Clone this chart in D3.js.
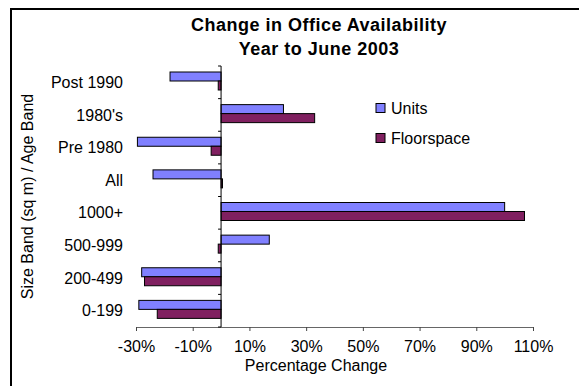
<!DOCTYPE html>
<html>
<head>
<meta charset="utf-8">
<script src="https://cdn.jsdelivr.net/npm/d3@7"></script>
<style>
	body {margin:0; background:#fff;}
	text {font-family:"Liberation Sans", Arial, sans-serif; fill:#000;}
</style>
</head>
<body>
<div class="c_chart"></div>
<script>

/*DATA
------------------------------------------------------
*/

const categories = ["Post 1990", "1980's", "Pre 1980", "All", "1000+", "500-999", "200-499", "0-199"];
const series = ["Units", "Floorspace"];
const units = [-18, 22, -29.5, -24, 100, 17, -28, -29];
const floorspace = [-1, 33, -3.5, 0.5, 107, -1, -27, -22.5];
const xTicks = [-30, -10, 10, 30, 50, 70, 90, 110];
const colors = ["#8080ff", "#802060"];

/*DIMENSIONS
------------------------------------------------------
*/

let width = 579;
let height = 386;
const plot = {top:66, bottom:327, left:136, right:533};

let svg = d3.select(".c_chart")
	.append("svg")
	.attr("width", width)
	.attr("height", height);

/*chart frame (only top and left edges are inside the picture)*/
svg.append("rect")
	.attr("x", 11).attr("y", 9)
	.attr("width", 700).attr("height", 500)
	.attr("fill", "none")
	.attr("stroke", "#000")
	.attr("stroke-width", 2);

/*SCALES
------------------------------------------------------
*/

const x = d3.scaleLinear()
	.domain([-30, 110])
	.range([plot.left, plot.right]);

const y = d3.scaleBand()
	.domain(categories)
	.range([plot.top, plot.bottom]);

const ySub = d3.scaleBand()
	.domain(series)
	.range([6, 24]);

/*BARS
------------------------------------------------------
*/

const rows = categories.map((c, i) => ({cat:c, values:[units[i], floorspace[i]]}));

const groups = svg.append("g")
	.selectAll("g")
	.data(rows)
	.enter()
	.append("g")
	.attr("transform", d => "translate(0," + y(d.cat) + ")");

groups.selectAll("rect")
	.data(d => d.values.map((v, j) => ({key:series[j], v:v})))
	.enter()
	.append("rect")
	.attr("x", d => x(Math.min(0, d.v)))
	.attr("y", d => ySub(d.key))
	.attr("width", d => Math.abs(x(d.v) - x(0)))
	.attr("height", ySub.bandwidth())
	.attr("fill", (d, j) => colors[j])
	.attr("stroke", "#000")
	.attr("stroke-width", 1);

/*X AXIS
------------------------------------------------------
*/

const xAxis = svg.append("g")
	.attr("transform", "translate(0," + plot.bottom + ")")
	.call(d3.axisBottom(x)
		.tickValues(xTicks)
		.tickFormat(d => d + "%")
		.tickSize(4)
		.tickSizeOuter(0)
		.tickPadding(10));

xAxis.select(".domain").attr("stroke", "#666");
xAxis.selectAll(".tick line").attr("stroke", "#444");
xAxis.selectAll("text")
	.attr("font-size", 16)
	.attr("font-family", "Liberation Sans, Arial, sans-serif")
	.attr("fill", "#000");

/*CATEGORY AXIS AT ZERO
------------------------------------------------------
*/

svg.append("line")
	.attr("x1", x(0)).attr("x2", x(0))
	.attr("y1", plot.top).attr("y2", plot.bottom)
	.attr("stroke", "#000");

const bounds = categories.map(c => y(c)).concat([y.range()[1]]);
svg.append("g")
	.selectAll("line")
	.data(bounds)
	.enter()
	.append("line")
	.attr("x1", x(0) - 3).attr("x2", x(0))
	.attr("y1", d => d).attr("y2", d => d)
	.attr("stroke", "#000");

svg.append("g")
	.selectAll("text")
	.data(categories)
	.enter()
	.append("text")
	.attr("x", 123)
	.attr("y", d => y(d) + y.bandwidth() / 2)
	.attr("dy", "0.35em")
	.attr("text-anchor", "end")
	.attr("font-size", 16)
	.text(d => d);

/*TITLES
------------------------------------------------------
*/

svg.append("text")
	.attr("x", 319).attr("y", 31)
	.attr("text-anchor", "middle")
	.attr("font-size", 18)
	.attr("letter-spacing", 0.5)
	.attr("font-weight", "bold")
	.text("Change in Office Availability");

svg.append("text")
	.attr("x", 319).attr("y", 55)
	.attr("text-anchor", "middle")
	.attr("font-size", 18)
	.attr("letter-spacing", 0.5)
	.attr("font-weight", "bold")
	.text("Year to June 2003");

svg.append("text")
	.attr("x", 316).attr("y", 371)
	.attr("text-anchor", "middle")
	.attr("font-size", 16)
	.text("Percentage Change");

svg.append("text")
	.attr("transform", "translate(33," + (plot.top + plot.bottom) / 2 + ") rotate(-90)")
	.attr("text-anchor", "middle")
	.attr("font-size", 16)
	.text("Size Band (sq m) / Age Band");

/*LEGEND
------------------------------------------------------
*/

const legend = svg.append("g")
	.selectAll("g")
	.data(series)
	.enter()
	.append("g")
	.attr("transform", (d, i) => "translate(376," + (108 + i * 30) + ")");

legend.append("rect")
	.attr("x", 0).attr("y", -4.5)
	.attr("width", 9).attr("height", 9)
	.attr("fill", (d, i) => colors[i])
	.attr("stroke", "#000");

legend.append("text")
	.attr("x", 15)
	.attr("dy", "0.35em")
	.attr("font-size", 16)
	.text(d => d);

</script>
</body>
</html>
